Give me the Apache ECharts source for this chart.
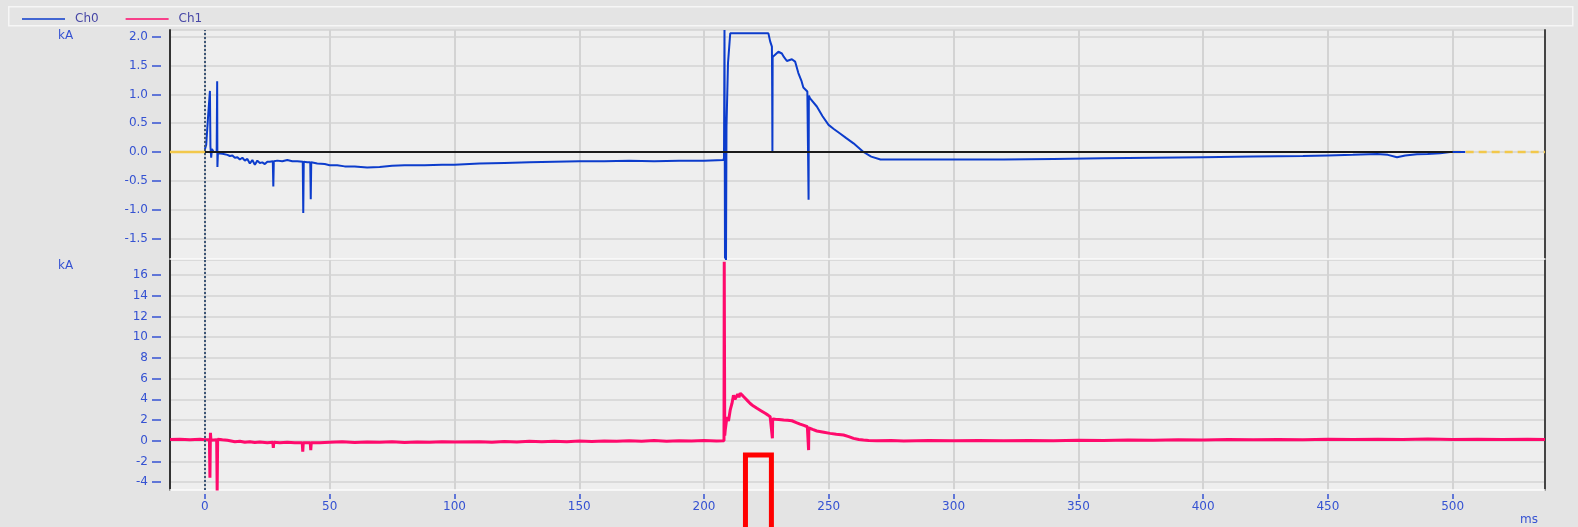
<!DOCTYPE html>
<html><head><meta charset="utf-8">
<script src="https://cdn.jsdelivr.net/npm/echarts@6/dist/echarts.min.js"></script>
<style>html,body{margin:0;padding:0;background:#e4e4e4;overflow:hidden}#c{width:1578px;height:527px}</style>
</head><body><div id="c"></div><script>
// ---------- data ----------
const seriesNames = ['Ch0', 'Ch1'];
const timeRange = [-14, 537];          // ms
const topRange = [-1.858, 2.118];      // kA (Ch0 panel)
const bottomRange = [-4.76, 17.46];    // kA (Ch1 panel)
const xTicks = [0, 50, 100, 150, 200, 250, 300, 350, 400, 450, 500];
const topTicks = [-1.5, -1.0, -0.5, 0.0, 0.5, 1.0, 1.5, 2.0];
const bottomTicks = [-4, -2, 0, 2, 4, 6, 8, 10, 12, 14, 16];
const unitLabel = 'kA';
const timeUnit = 'ms';
const triggerTime = 0;
const baselineOn = [[0, 0], [500, 0]];
const baselinePre = [[-14, 0], [0, 0]];
const baselinePost = [[500, 0], [537, 0]];
const annotationRange = [216.6, 227.0];
const annotationTop = -1.38;

const ch0 = [
  [0,0.05],[0.5,0.12],[1,0.1],[1.3,0.64],[1.8,0.64],[2.0,1.06],[2.2,0.1],[2.5,-0.1],[2.8,0.05],[3.5,0.0],[4.7,0.0],[4.9,1.23],[5.0,-0.26],[5.2,-0.02],
  [7,-0.03],[9,-0.05],[10,-0.07],[11,-0.06],[12,-0.1],[13,-0.09],[14,-0.13],[15,-0.1],[16,-0.15],[17,-0.12],[18,-0.2],[19,-0.14],[20,-0.22],
  [21,-0.15],[22,-0.19],[23,-0.18],[24,-0.21],[25,-0.17],[26,-0.17],[27.2,-0.16],[27.4,-0.6],[27.6,-0.16],[29,-0.15],[31,-0.16],[33,-0.14],
  [35,-0.16],[37,-0.16],[39.2,-0.17],[39.4,-1.06],[39.6,-0.17],[41,-0.18],[42.2,-0.18],[42.4,-0.82],[42.6,-0.18],[45,-0.2],[48,-0.21],
  [50,-0.23],[53,-0.23],[56,-0.25],[60,-0.25],[65,-0.27],[70,-0.26],[75,-0.24],[80,-0.23],[88,-0.23],[95,-0.22],[100,-0.22],[110,-0.2],
  [120,-0.19],[130,-0.18],[140,-0.17],[150,-0.16],[160,-0.16],[170,-0.15],[180,-0.16],[190,-0.15],[200,-0.15],[207.8,-0.14],
  [208.0,-0.1],[208.2,2.12],[208.4,-1.85],[208.6,-1.6],[208.8,-1.9],[209.0,0.44],[209.4,0.44],[209.6,1.54],[210.2,1.54],[210.5,2.06],
  [225.8,2.06],[226.5,1.92],[227.2,1.83],[227.3,1.08],[227.4,0.0],[227.5,1.65],[228.2,1.65],[229.8,1.74],[231.2,1.71],[232,1.65],
  [233.2,1.58],[235.2,1.61],[236.5,1.57],[237.8,1.37],[239,1.24],[239.8,1.12],[241.4,1.05],[241.9,-0.83],[242.0,0.98],[242.5,0.93],
  [245.2,0.79],[247.5,0.62],[249.9,0.47],[252,0.4],[254.5,0.32],[257,0.24],[259.9,0.15],[263.9,0.0],[267,-0.08],[270.7,-0.13],
  [280,-0.13],[300,-0.13],[320,-0.13],[340,-0.12],[360,-0.11],[380,-0.1],[400,-0.09],[420,-0.08],[440,-0.07],[450,-0.06],[460,-0.05],
  [469.7,-0.035],[474,-0.05],[477.7,-0.09],[481,-0.06],[485.7,-0.04],[490,-0.035],[495,-0.02],[499,0.0],[505,0.0]
];

const ch1 = [
  [-14,0.12],[-10,0.15],[-6,0.1],[-2,0.14],[0,0.1],[1.8,0.1],[2.0,-3.57],[2.2,0.77],[2.4,0.05],[3,0.12],[4.7,0.1],[4.9,-4.8],[5.1,0.15],
  [7,0.1],[9,0.05],[10,0.0],[12,-0.1],[14,-0.05],[16,-0.15],[18,-0.1],[20,-0.18],[22,-0.12],[25,-0.2],[27.2,-0.15],[27.4,-0.68],[27.6,-0.15],
  [30,-0.2],[33,-0.15],[36,-0.2],[39,-0.2],[39.2,-1.06],[39.4,-0.2],[42.2,-0.2],[42.4,-0.9],[42.6,-0.2],[46,-0.2],
  [50,-0.15],[55,-0.1],[60,-0.18],[65,-0.12],[70,-0.15],[75,-0.1],[80,-0.16],[85,-0.12],[90,-0.14],[95,-0.1],[100,-0.13],[110,-0.1],
  [115,-0.14],[120,-0.08],[125,-0.12],[130,-0.06],[135,-0.1],[140,-0.05],[145,-0.1],[150,-0.03],[155,-0.08],[160,-0.02],[165,-0.06],
  [170,0.0],[175,-0.05],[180,0.02],[185,-0.04],[190,0.0],[195,-0.03],[200,0.02],[205,-0.02],[208,0.0],
  [208.1,17.3],[208.3,0.5],[208.5,1.03],[209.2,2.3],[209.8,1.9],[210.5,2.97],[211.2,3.6],[211.8,4.4],[212.4,4.0],[212.9,4.25],[213.5,4.5],
  [214.0,4.2],[214.5,4.58],[215.5,4.35],[216.5,4.1],[217.5,3.85],[218.5,3.6],[219.8,3.35],[221.2,3.13],[222.8,2.9],[224.5,2.65],[225.5,2.5],
  [226.5,2.32],[227.3,2.25],[227.4,0.23],[227.5,2.1],[228.6,2.07],[230,2.05],[231.9,2.0],[233.5,1.98],[235.2,1.93],[237,1.75],[238.5,1.61],
  [240,1.48],[241.4,1.35],[241.9,-0.9],[242.0,1.25],[243.5,1.1],[245.2,0.94],[248,0.82],[250.5,0.71],[253,0.62],[255.9,0.55],[258,0.4],
  [259.9,0.23],[262,0.12],[263.9,0.07],[266,0.03],[269.3,0.0],[275,0.02],[280,-0.02],[290,0.02],[300,-0.01],[310,0.02],[320,0.0],
  [330,0.03],[340,0.01],[350,0.05],[360,0.03],[370,0.08],[380,0.05],[390,0.1],[400,0.07],[410,0.12],[420,0.09],[430,0.13],[440,0.1],
  [450,0.14],[460,0.11],[470,0.15],[480,0.12],[490,0.16],[500,0.13],[510,0.15],[520,0.12],[530,0.15],[537,0.13]
];

// ---------- chart ----------
const LABEL_BLUE = '#3552d2';
const GRID_GREY = '#d3d3d3';
const CH0_COLOR = '#0c3ccc';
const CH1_COLOR = '#ff0a6c';
const chart = echarts.init(document.getElementById('c'), null, {renderer: 'canvas'});
const grids = [
  {left: 170, top: 30, width: 1375, height: 229, show: true, backgroundColor: '#eeeeee', borderWidth: 0},
  {left: 170, top: 260, width: 1375, height: 230, show: true, backgroundColor: '#eeeeee', borderWidth: 0}
];
const labelFont = {fontFamily: 'DejaVu Sans', fontSize: 12, color: LABEL_BLUE};

function mainX(gi) {
  return {type: 'value', gridIndex: gi, position: 'bottom', min: timeRange[0], max: timeRange[1], splitNumber: 11,
    axisLine: {show: true, onZero: false, lineStyle: {color: '#fbfbfb', width: 1.5}},
    axisTick: {show: false}, axisLabel: {show: false},
    splitLine: {show: true, showMinLine: false, showMaxLine: false, lineStyle: {color: GRID_GREY, width: 2}}};
}
function mainY(gi, r, split, showTop) {
  return {type: 'value', gridIndex: gi, min: r[0], max: r[1], splitNumber: split, position: 'left',
    axisLine: {show: true, onZero: false, lineStyle: {color: '#333333', width: 2}},
    axisTick: {show: false}, axisLabel: {show: false},
    splitLine: {show: true, showMinLine: false, showMaxLine: showTop, lineStyle: {color: GRID_GREY, width: 1.5}}};
}
function decoY(gi, r, ticks, fmt) {
  return {type: 'value', gridIndex: gi, min: r[0], max: r[1], offset: 9, position: 'left',
    axisLine: {show: false, onZero: false},
    axisTick: {show: true, length: 9, customValues: ticks, lineStyle: {color: LABEL_BLUE, width: 1.5}},
    axisLabel: Object.assign({show: true, customValues: ticks, margin: 13, formatter: fmt}, labelFont),
    splitLine: {show: false}};
}
function rightY(gi, r) {
  return {type: 'value', gridIndex: gi, min: r[0], max: r[1], position: 'right',
    axisLine: {show: true, onZero: false, lineStyle: {color: '#444444', width: 2}},
    axisTick: {show: false}, axisLabel: {show: false}, splitLine: {show: false}};
}

const option = {
  animation: false,
  backgroundColor: '#e4e4e4',
  color: [CH0_COLOR, CH1_COLOR],
  grid: grids,
  legend: {
    data: seriesNames, left: 17, top: 8, icon: 'rect', itemWidth: 43, itemHeight: 1.5, itemGap: 27,
    textStyle: {fontFamily: 'DejaVu Sans', fontSize: 12, color: '#4646a6', padding: [0, 0, 0, 5]}
  },
  xAxis: [
    mainX(0), mainX(1),
    {type: 'value', gridIndex: 1, position: 'bottom', min: timeRange[0], max: timeRange[1], offset: 4,
      axisLine: {show: false, onZero: false},
      axisTick: {show: true, length: 5, customValues: xTicks, lineStyle: {color: LABEL_BLUE, width: 1.5}},
      axisLabel: Object.assign({show: true, customValues: xTicks, margin: 7}, labelFont),
      splitLine: {show: false}}
  ],
  yAxis: [
    mainY(0, topRange, 8, true), mainY(1, bottomRange, 11, true),
    decoY(0, topRange, topTicks, v => v.toFixed(1)),
    decoY(1, bottomRange, bottomTicks, v => String(v)),
    rightY(0, topRange), rightY(1, bottomRange)
  ],
  graphic: [
    {type: 'rect', left: 8, top: 6, shape: {width: 1564, height: 19}, style: {fill: '#e4e4e4', stroke: '#f6f6f6', lineWidth: 1.5}, z: -10},
    {type: 'text', left: 58, top: 30, style: {text: unitLabel, font: '12px DejaVu Sans', fill: LABEL_BLUE}},
    {type: 'text', left: 58, top: 260, style: {text: unitLabel, font: '12px DejaVu Sans', fill: LABEL_BLUE}},
    {type: 'text', left: 1520, top: 514, style: {text: timeUnit, font: '12px DejaVu Sans', fill: LABEL_BLUE}}
  ],
  series: [
    {name: 'pre', type: 'line', xAxisIndex: 0, yAxisIndex: 0, data: baselinePre, symbol: 'none',
      lineStyle: {color: '#f2c84b', width: 2.5}, silent: true, z: 1},
    {name: 'post', type: 'line', xAxisIndex: 0, yAxisIndex: 0, data: baselinePost, symbol: 'none',
      lineStyle: {color: '#f2c84b', width: 2.5, type: [8, 5]}, silent: true, z: 1},
    {name: 'zero', type: 'line', xAxisIndex: 0, yAxisIndex: 0, data: baselineOn, symbol: 'none',
      lineStyle: {color: '#1a1a1a', width: 2}, silent: true, z: 3},
    {name: 'Ch0', type: 'line', xAxisIndex: 0, yAxisIndex: 0, data: ch0, symbol: 'none',
      itemStyle: {color: CH0_COLOR}, lineStyle: {color: CH0_COLOR, width: 2}, z: 2,
      markLine: {symbol: 'none', silent: true, label: {show: false},
        lineStyle: {color: '#3d5677', type: [2, 2], width: 2}, data: [{xAxis: triggerTime}]}},
    {name: 'Ch1', type: 'line', xAxisIndex: 1, yAxisIndex: 1, data: ch1, symbol: 'none',
      itemStyle: {color: CH1_COLOR}, lineStyle: {color: CH1_COLOR, width: 3}, z: 2,
      markLine: {symbol: 'none', silent: true, label: {show: false},
        lineStyle: {color: '#3d5677', type: [2, 2], width: 2}, data: [{xAxis: triggerTime}]}}
  ]
};
chart.setOption(option);

// annotation box positioned through the chart's own scales
const p0 = chart.convertToPixel({xAxisIndex: 1, yAxisIndex: 1}, [annotationRange[0], annotationTop]);
const p1 = chart.convertToPixel({xAxisIndex: 1, yAxisIndex: 1}, [annotationRange[1], annotationTop]);
chart.setOption({graphic: option.graphic.concat([
  {type: 'rect', shape: {x: p0[0], y: p0[1], width: p1[0] - p0[0], height: 120},
    style: {fill: 'none', stroke: '#ff0000', lineWidth: 5}, z: 100}
])});
</script></body></html>
